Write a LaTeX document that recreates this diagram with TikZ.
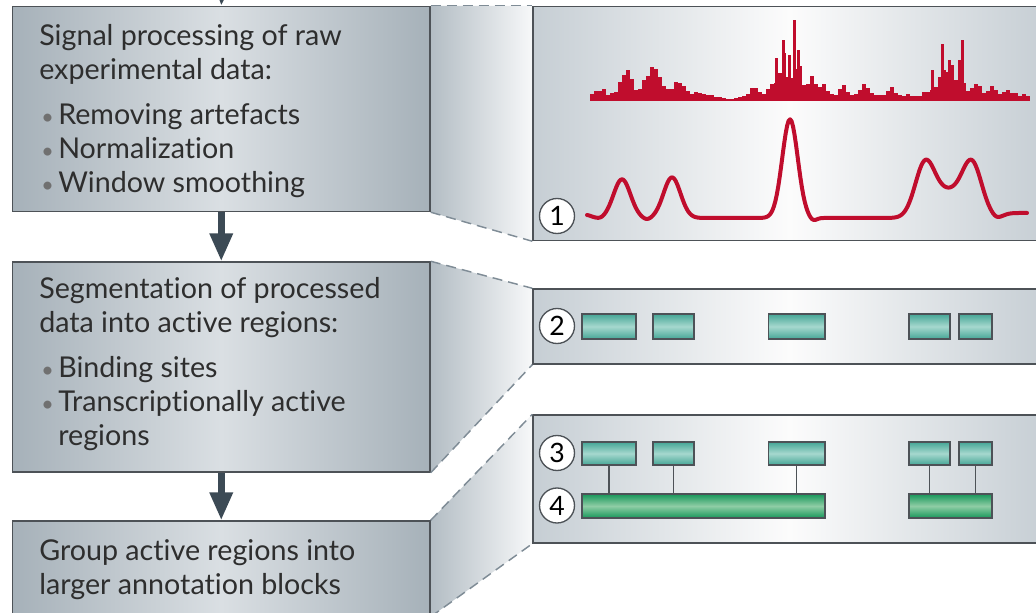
\documentclass[tikz,border=0pt]{standalone}
\usepackage{fontspec}
\setmainfont{Lato}[Ligatures={NoCommon,NoRare,NoContextual}]
\usetikzlibrary{fit,arrows.meta,backgrounds}

\definecolor{boxedge}{HTML}{A6B1B9}
\definecolor{boxmid}{HTML}{DADFE3}
\definecolor{panedge}{HTML}{C6CED4}
\definecolor{panmid}{HTML}{FCFCFC}
\definecolor{trapl}{HTML}{B3BDC4}
\definecolor{trapr}{HTML}{F7F8F9}
\definecolor{framec}{HTML}{4D5257}
\definecolor{dashc}{HTML}{7F8C96}
\definecolor{arrowc}{HTML}{3C4A55}
\definecolor{inkc}{HTML}{2E2E2E}
\definecolor{bulc}{HTML}{707070}
\definecolor{sigred}{HTML}{C00D2D}
\definecolor{tealE}{HTML}{45A696}
\definecolor{tealM}{HTML}{A6D8CE}
\definecolor{grnE}{HTML}{17975A}
\definecolor{grnM}{HTML}{8FCDA5}

\newcommand\bulletmark{\makebox[14.25pt][l]{\hspace{1.5pt}\textcolor{bulc}{\scalebox{0.75}{•}}}}

\begin{document}
\begin{tikzpicture}[x=0.75pt,y=-0.75pt,
  declare function={gs(\t,\c,\w)=exp(-min(((\t-\c)/\w)^2,9));},
  stepbox/.style={rectangle, draw=framec, line width=1.1pt, inner sep=0pt,
    left color=boxedge, right color=boxedge, middle color=boxmid},
  panelbox/.style={rectangle, draw=framec, line width=1.1pt, inner sep=0pt,
    left color=panedge, right color=panedge, middle color=panmid},
  trapfill/.style={left color=trapl, right color=trapr},
  dashedge/.style={draw=dashc, line width=1.1pt, dash pattern=on 7.5pt off 4.5pt},
  flowarrow/.style={draw=arrowc, line width=5pt,
    -{Triangle[width=16.5pt,length=21pt]}},
  lbl/.style={anchor=base west, inner sep=0pt, text=inkc,
    font=\fontsize{21.5}{24}\selectfont},
  numc/.style={circle, draw=framec, line width=1pt, fill=white,
    minimum size=26.25pt, inner sep=0pt, font=\fontsize{20}{20}\selectfont},
  segbox/.style={rectangle, draw=framec, line width=1pt, inner sep=0pt,
    top color=tealE, bottom color=tealE, middle color=tealM},
  blockbox/.style={rectangle, draw=framec, line width=1pt, inner sep=0pt,
    top color=grnE, bottom color=grnE, middle color=grnM},
  linkline/.style={draw=framec, line width=0.8pt},
]
\useasboundingbox (0,0) rectangle (1036,613);
\clip (0,0) rectangle (1036,613);

% ---------- step boxes ----------
\node[stepbox, fit={(12.5,6.5) (430,211.5)}] (b1) {};
\node[stepbox, fit={(12.5,262) (430,472)}] (b2) {};
\node[stepbox, fit={(12.5,521) (430,616)}] (b3) {};

% ---------- detail panels ----------
\node[panelbox, fit={(533,6.5) (1046,240.5)}] (p1) {};
\node[panelbox, fit={(533,289) (1046,364)}] (p2) {};
\node[panelbox, fit={(533,415) (1046,543)}] (p3) {};

% ---------- zoom wedges between boxes and panels ----------
\begin{scope}[on background layer]
  \shade[trapfill] (b1.north east) -- (p1.north west) -- (p1.south west) -- (b1.south east) -- cycle;
  \shade[trapfill] (b2.north east) -- (p2.north west) -- (p2.south west) -- (b2.south east) -- cycle;
  \shade[trapfill] (b3.north east) -- (p3.north west) -- (p3.south west) -- (b3.south east) -- cycle;
\end{scope}
\draw[dashedge] (b1.north east) -- (p1.north west);
\draw[dashedge] (b1.south east) -- (p1.south west);
\draw[dashedge] (b2.north east) -- (p2.north west);
\draw[dashedge] (b2.south east) -- (p2.south west);
\draw[dashedge] (b3.north east) -- (p3.north west);
\draw[dashedge] (b3.south east) -- (p3.south west);

% ---------- flow arrows ----------
\coordinate (top) at (224,-40);
\draw[flowarrow] (top) -- (b1.north);
\draw[flowarrow] (b1.south) -- (b2.north);
\draw[flowarrow] (b2.south) -- (b3.north);

% ---------- step texts ----------
\node[lbl] (t1a) at (39,46) {Signal processing of raw};
\node[lbl] (t1b) at (39,80) {experimental data:};
\node[lbl] (t1c) at (39,125) {\bulletmark Removing artefacts};
\node[lbl] (t1d) at (39,159) {\bulletmark Normalization};
\node[lbl] (t1e) at (39,193) {\bulletmark Window smoothing};

\node[lbl] (t2a) at (39,298) {Segmentation of processed};
\node[lbl] (t2b) at (39,332) {data into active regions:};
\node[lbl] (t2c) at (39,377) {\bulletmark Binding sites};
\node[lbl] (t2d) at (39,411) {\bulletmark Transcriptionally active};
\node[lbl] (t2e) at (58,445) {regions};

\node[lbl] (t3a) at (39,560) {Group active regions into};
\node[lbl] (t3b) at (39,594) {larger annotation blocks};

% ---------- panel 1: raw signal histogram ----------
\pgfmathsetseed{11}
\foreach \i in {0,...,109} {
  \pgfmathsetmacro\hx{590+4*\i}
  \pgfmathsetmacro\hh{(5 + 6*gs(\hx,600,6) + 26*gs(\hx,624,8) + 27*gs(\hx,650,10)
     + 12*gs(\hx,676,10) + 4*gs(\hx,700,6) - 4*gs(\hx,727,12)
     + 12*gs(\hx,752,5) + 16*gs(\hx,770,5) + 36*gs(\hx,782,6) + 36*gs(\hx,795,6)
     + 18*gs(\hx,810,5) + 9*gs(\hx,822,6) + 14*gs(\hx,841,4) + 10*gs(\hx,862,7)
     + 7*gs(\hx,888,5) + 26*gs(\hx,948,16) + 10*gs(\hx,975,5) + 10*gs(\hx,990,6)
     + 5*gs(\hx,1005,6))*(0.7+0.5*rnd)}
  \fill[sigred] (\hx,101) rectangle (\hx+4.1,100-\hh);
}
\foreach \sx/\sh in {775/42, 782/60, 788/45, 793/80, 797/50, 931/30, 941/56, 948/40, 958/40, 961/60} {
  \fill[sigred] (\sx,101) rectangle (\sx+2.6,100-\sh);
}

% ---------- panel 1: smoothed signal ----------
\draw[sigred, line width=3pt, line join=round, line cap=round]
  plot[domain=587:1027, samples=300]
  (\x, {218 - 3*gs(\x,586,7) + 1*gs(\x,601,5) - 38.7*gs(\x,622,12) + 2*gs(\x,647,6)
     - 40.6*gs(\x,672,12) - 98.7*gs(\x,790,11) + 3*gs(\x,813,5)
     - 53.6*gs(\x,925,14) - 24*gs(\x,948.5,18) - 53.6*gs(\x,972,14)
     + 1.5*gs(\x,996,5) - 5/(1+exp(min(-(\x-1004)/3,9)))});

% ---------- panel 2: active regions ----------
\node[segbox, fit={(582,314) (636,339)}] (s2a) {};
\node[segbox, fit={(653,314) (694,339)}] (s2b) {};
\node[segbox, fit={(768.5,314) (825,339)}] (s2c) {};
\node[segbox, fit={(909,314) (950,339)}] (s2d) {};
\node[segbox, fit={(959,314) (992,339)}] (s2e) {};

% ---------- panel 3: regions grouped into blocks ----------
\node[segbox, fit={(582,442) (636,465)}] (s3a) {};
\node[segbox, fit={(653,442) (694,465)}] (s3b) {};
\node[segbox, fit={(768.5,442) (825,465)}] (s3c) {};
\node[segbox, fit={(909,442) (950,465)}] (s3d) {};
\node[segbox, fit={(959,442) (992,465)}] (s3e) {};
\node[blockbox, fit={(582,494) (825,518)}] (g1) {};
\node[blockbox, fit={(909,494) (992,518)}] (g2) {};
\draw[linkline] (s3a.south) -- (s3a.south |- g1.north);
\draw[linkline] (s3b.south) -- (s3b.south |- g1.north);
\draw[linkline] (s3c.south) -- (s3c.south |- g1.north);
\draw[linkline] (s3d.south) -- (s3d.south |- g2.north);
\draw[linkline] (s3e.south) -- (s3e.south |- g2.north);

% ---------- step numbers ----------
\node[numc] (c1) at (557,216) {1};
\node[numc] (c2) at (557,326) {2};
\node[numc] (c3) at (557,453) {3};
\node[numc] (c4) at (557,505.5) {4};
\end{tikzpicture}
\end{document}
